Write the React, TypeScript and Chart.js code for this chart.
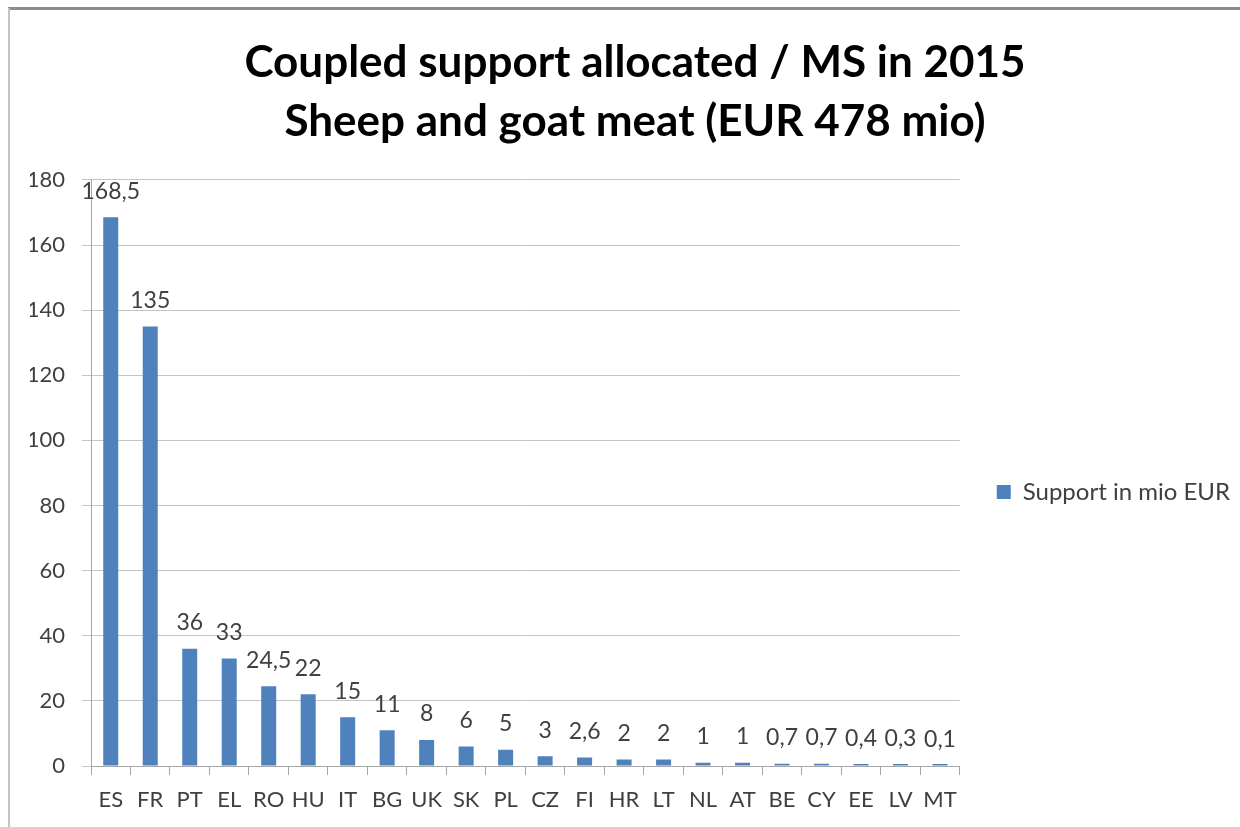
import React, { useEffect, useRef } from "react";
import { Chart, registerables } from "chart.js";

Chart.register(...registerables);

const categories = ["ES", "FR", "PT", "EL", "RO", "HU", "IT", "BG", "UK", "SK", "PL", "CZ", "FI", "HR", "LT", "NL", "AT", "BE", "CY", "EE", "LV", "MT"];
const supportValues = [168.5, 135, 36, 33, 24.5, 22, 15, 11, 8, 6, 5, 3, 2.6, 2, 2, 1, 1, 0.7, 0.7, 0.4, 0.3, 0.1];
const titleLines = ["Coupled support allocated / MS in 2015", "Sheep and goat meat (EUR 478 mio)"];
const seriesName = "Support in mio EUR";
const yMin = 0;
const yMax = 180;
const yStep = 20;

const FONT = "Lato, 'Open Sans', sans-serif";
const BLUE = "#4f81bd";
const TEXT = "#404040";

const valueLabels = {
  id: "valueLabels",
  afterDatasetsDraw(chart: any) {
    const ctx = chart.ctx;
    const meta = chart.getDatasetMeta(0);
    const data = chart.data.datasets[0].data as number[];
    ctx.save();
    ctx.font = `23px ${FONT}`;
    ctx.fillStyle = TEXT;
    ctx.textAlign = "center";
    ctx.textBaseline = "middle";
    meta.data.forEach((bar: any, i: number) => {
      const txt = String(data[i]).replace(".", ",");
      const base = chart.scales.y.getPixelForValue(data[i]);
      ctx.fillText(txt, bar.x, base - 26);
    });
    ctx.restore();
  },
};

export default function App() {
  const ref = useRef<HTMLCanvasElement | null>(null);
  useEffect(() => {
    if (!ref.current) return;
    const chart = new Chart(ref.current, {
      type: "bar",
      data: {
        labels: categories,
        datasets: [
          {
            label: seriesName,
            data: supportValues,
            backgroundColor: BLUE,
            borderWidth: 0,
            barPercentage: 0.38,
            categoryPercentage: 1,
            minBarLength: 2,
          },
        ],
      },
      options: {
        animation: false,
        responsive: false,
        maintainAspectRatio: false,
        layout: { padding: { left: 30, right: 0, top: 33, bottom: 0 } },
        plugins: {
          title: {
            display: true,
            text: titleLines,
            color: "#000000",
            font: { family: FONT, size: 44, weight: "bold", lineHeight: 1.34 },
            padding: { top: 0, bottom: 29 },
          },
          legend: {
            display: true,
            position: "right",
            align: "center",
            title: {
              display: true,
              text: " ",
              font: { family: FONT, size: 10, lineHeight: 1 },
              padding: { top: 57, bottom: 57 },
            },
            labels: {
              color: TEXT,
              font: { family: FONT, size: 24 },
              boxWidth: 14,
              boxHeight: 14,
              padding: 37,
            },
          },
          tooltip: { enabled: false },
        },
        scales: {
          x: {
            grid: {
              display: true,
              drawOnChartArea: false,
              drawTicks: true,
              tickLength: 9,
              color: "#a6a6a6",
              offset: true,
            },
            border: { display: true, color: "#a6a6a6", width: 1 },
            ticks: { color: TEXT, font: { family: FONT, size: 22 }, padding: 12, maxRotation: 0, autoSkip: false },
            afterFit(scale: any) {
              scale.height = 61;
            },
          },
          y: {
            min: yMin,
            max: yMax,
            grid: { color: "#c4c4c4", tickLength: 9, drawTicks: true },
            border: { display: true, color: "#a6a6a6", width: 1 },
            ticks: { stepSize: yStep, color: TEXT, font: { family: FONT, size: 22 }, padding: 17 },
            afterFit(scale: any) {
              scale.width = 61;
            },
          },
        },
      },
      plugins: [valueLabels],
    });
    return () => chart.destroy();
  }, []);

  return (
    <div style={{ position: "absolute", left: 0, top: 0, width: 1240, height: 827, background: "#ffffff" }}>
      <canvas ref={ref} width={1240} height={827} style={{ position: "absolute", left: 0, top: 0, width: 1240, height: 827 }} />
      <div style={{ position: "absolute", left: 8, top: 7, width: 1232, height: 3, background: "#8c8c8c" }} />
      <div style={{ position: "absolute", left: 8, top: 8, width: 2, height: 819, background: "#c4c4c4" }} />
    </div>
  );
}
